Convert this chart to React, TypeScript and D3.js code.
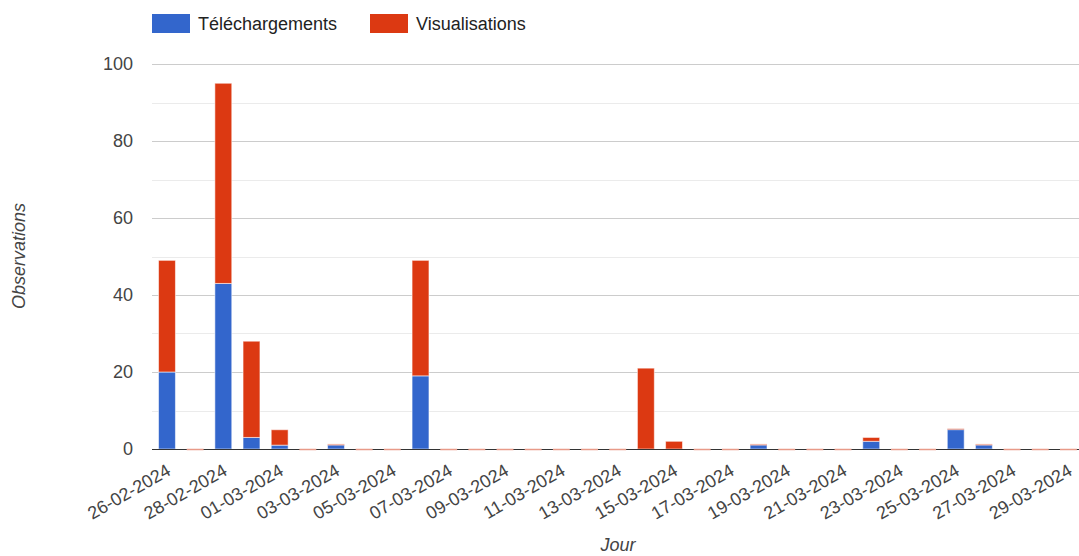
import React from "react";
import * as d3 from "d3";

const days = [
  "26-02-2024", "27-02-2024", "28-02-2024", "29-02-2024",
  "01-03-2024", "02-03-2024", "03-03-2024", "04-03-2024", "05-03-2024",
  "06-03-2024", "07-03-2024", "08-03-2024", "09-03-2024", "10-03-2024",
  "11-03-2024", "12-03-2024", "13-03-2024", "14-03-2024", "15-03-2024",
  "16-03-2024", "17-03-2024", "18-03-2024", "19-03-2024", "20-03-2024",
  "21-03-2024", "22-03-2024", "23-03-2024", "24-03-2024", "25-03-2024",
  "26-03-2024", "27-03-2024", "28-03-2024", "29-03-2024",
];
const telechargements = [20, 0, 43, 3, 1, 0, 1, 0, 0, 19, 0, 0, 0, 0, 0, 0, 0, 0, 0, 0, 0, 1, 0, 0, 0, 2, 0, 0, 5, 1, 0, 0, 0];
const visualisations = [29, 0, 52, 25, 4, 0, 0, 0, 0, 30, 0, 0, 0, 0, 0, 0, 0, 21, 2, 0, 0, 0, 0, 0, 0, 1, 0, 0, 0, 0, 0, 0, 0];
const seriesNames = ["Téléchargements", "Visualisations"];
const seriesColors = ["#3366cc", "#dc3912"];
const yTicks = [0, 20, 40, 60, 80, 100];
const yMinor = [10, 30, 50, 70, 90];

const W = 1079;
const H = 556;
const FONT = "Arial, 'Liberation Sans', sans-serif";

export default function App() {
  const x = d3.scaleBand<string>().domain(days).range([152.9, 1082.5]).paddingInner(0.4).paddingOuter(0.2);
  const y = d3.scaleLinear().domain([0, 100]).range([449, 64]);
  const rows = days.map((d, i) => ({ day: d, t: telechargements[i], v: visualisations[i] }));
  const stack = d3.stack<any>().keys(["t", "v"])(rows);
  const bw = x.bandwidth();

  return (
    <svg width={W} height={H} style={{ position: "absolute", left: 0, top: 0, background: "#fff" }} fontFamily={FONT}>
      {/* legend */}
      {seriesNames.map((n, i) => {
        const lx = i === 0 ? 152 : 370;
        return (
          <g key={n}>
            <rect x={lx} y={14} width={38} height={19} fill={seriesColors[i]} />
            <text x={lx + 46} y={30} fontSize={18} fill="#222">{n}</text>
          </g>
        );
      })}
      {/* gridlines */}
      {yMinor.map((t) => (
        <line key={"m" + t} x1={152} x2={W} y1={Math.round(y(t)) + 0.5} y2={Math.round(y(t)) + 0.5} stroke="#ebebeb" />
      ))}
      {yTicks.filter((t) => t !== 0).map((t) => (
        <line key={"g" + t} x1={152} x2={W} y1={Math.round(y(t)) + 0.5} y2={Math.round(y(t)) + 0.5} stroke="#cccccc" />
      ))}
      {yTicks.map((t) => (
        <text key={"yt" + t} x={133} y={y(t) + 6} fontSize={18} fill="#444" textAnchor="end">{t}</text>
      ))}
      {/* bars */}
      {stack.map((s, si) => (
        <g key={si}>
          {s.map((p, i) => {
            const x0 = x(days[i])!;
            const top = y(p[1]);
            const bot = y(p[0]);
            const h = bot - top;
            if (h <= 0) {
              if (p[1] === 0) return null;
              return <line key={i} x1={x0} x2={x0 + bw} y1={top - 0.5} y2={top - 0.5} stroke={seriesColors[si]} strokeOpacity={0.35} strokeWidth={1.5} />;
            }
            return (
              <rect key={i} x={x0} y={top} width={bw} height={h} fill={seriesColors[si]} stroke="#fff" strokeOpacity={0.55} strokeWidth={1} />
            );
          })}
        </g>
      ))}
      {/* baseline */}
      <line x1={152} x2={W} y1={449.5} y2={449.5} stroke="#333" strokeWidth={1.2} />
      {rows.map((r, i) =>
        r.t === 0 && r.v === 0 ? (
          <line key={"z" + i} x1={x(r.day)!} x2={x(r.day)! + bw} y1={449.5} y2={449.5} stroke="#e89a88" strokeWidth={1.5} />
        ) : null
      )}
      {/* x labels */}
      {days.filter((_, i) => i % 2 === 0).map((d) => {
        const cx = x(d)! + bw / 2;
        return (
          <text key={d} transform={`translate(${cx + 5},${474}) rotate(-30)`} fontSize={18} fill="#444" textAnchor="end">{d}</text>
        );
      })}
      {/* axis titles */}
      <text x={618} y={551} fontSize={18} fontStyle="italic" fill="#444" textAnchor="middle">Jour</text>
      <text transform="translate(25,256) rotate(-90)" fontSize={18} fontStyle="italic" fill="#444" textAnchor="middle">Observations</text>
    </svg>
  );
}
